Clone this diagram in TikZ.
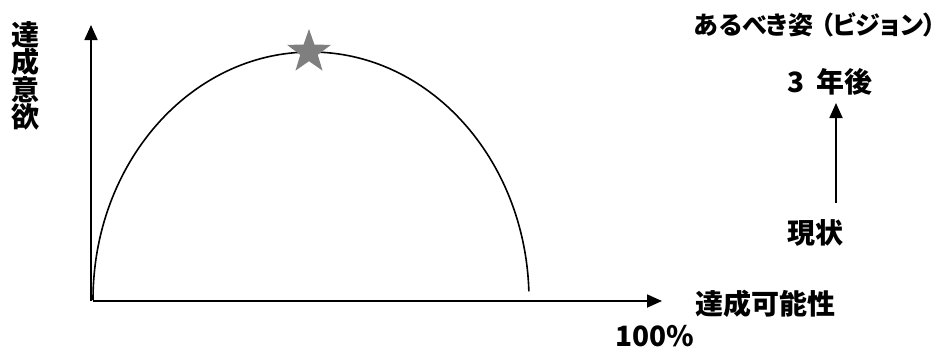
\documentclass[tikz,border=0pt]{standalone}
\usepackage{fontspec}
\newfontfamily\jp{Noto Sans CJK JP}[RawFeature=+palt]
\usetikzlibrary{arrows.meta,shapes.geometric}
\begin{document}
\begin{tikzpicture}[x=1pt,y=-1pt,
  lbl/.style={font=\jp\bfseries\fontsize{28}{27}\selectfont, inner sep=0pt, align=center},
  axis/.style={line width=1.8pt, -{Triangle[length=15pt,width=13pt]}},
  curve/.style={line width=1.6pt}]
\useasboundingbox (0,0) rectangle (949,349);
\coordinate (o) at (91,301);
\coordinate (ytop) at (91,25);
\coordinate (xo) at (93,301);
\coordinate (xend) at (662,301);
\draw[axis] (o) -- (ytop);
\draw[axis] (xo) -- (xend);
\coordinate (arcstart) at (93,300);
\draw[curve] (arcstart) arc[start angle=180, end angle=358, x radius=218, y radius=248];
\node[star, star points=5, star point ratio=2.5, fill={rgb,255:red,127;green,127;blue,127}, minimum size=46pt, inner sep=0pt] (st) at (309,52) {};
\node[lbl] (yl) at (25,76) {達\\成\\意\\欲};
\node[lbl, anchor=west] (xl) at (695,304) {達成可能性};
\node[lbl, font=\jp\bfseries\fontsize{28}{29}\selectfont] (pc) at (655,336) {100\%};
\node[lbl, font=\jp\bfseries\fontsize{25}{26}\selectfont] (vis) at (815,25) {あるべき姿\hspace{0.3em}（ビジョン）};
\node[lbl] (yr) at (830,82) {3\hspace{0.4em}年後};
\node[lbl] (now) at (815,233) {現状};
\coordinate (nowtop) at (836,203);
\coordinate (yrbot) at (836,103);
\draw[axis] (nowtop) -- (yrbot);
\end{tikzpicture}
\end{document}
